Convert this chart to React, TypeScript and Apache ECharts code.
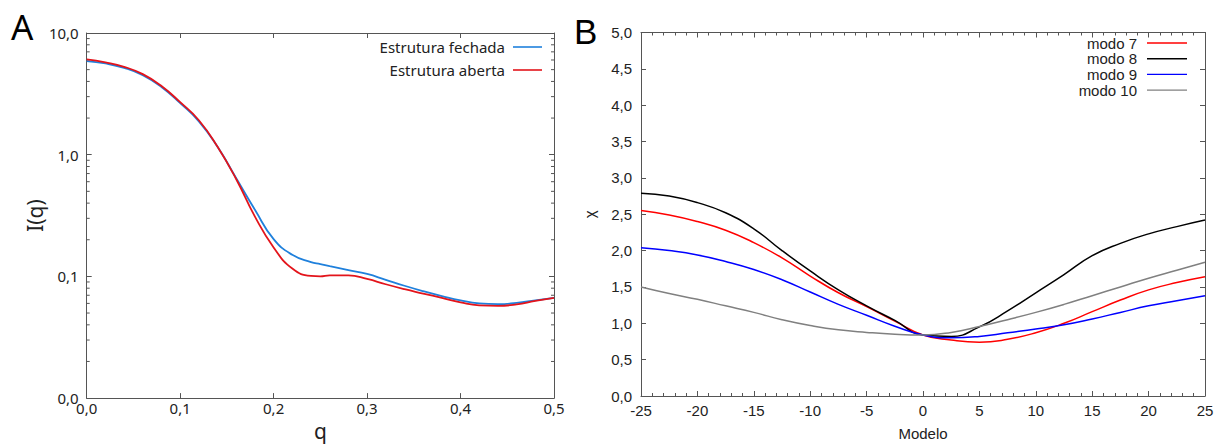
import React, { useEffect, useRef } from 'react';
import * as echarts from 'echarts';

// Panel A data
const qValues = [0, 0.02, 0.04, 0.06, 0.08, 0.1, 0.12, 0.14, 0.16, 0.18, 0.2, 0.22, 0.24, 0.25, 0.26, 0.28, 0.3, 0.32, 0.34, 0.36, 0.38, 0.4, 0.42, 0.44, 0.46, 0.48, 0.5];
const closedI = [5.87, 5.62, 5.17, 4.5, 3.6, 2.65, 1.88, 1.16, 0.64, 0.353, 0.2026, 0.1504, 0.1309, 0.1262, 0.1215, 0.1128, 0.1047, 0.0937, 0.0838, 0.0757, 0.069, 0.0635, 0.06, 0.0591, 0.0606, 0.0635, 0.0665];
const openI = [6.06, 5.73, 5.27, 4.59, 3.67, 2.7, 1.92, 1.16, 0.629, 0.31, 0.173, 0.116, 0.1009, 0.1, 0.1019, 0.1019, 0.0954, 0.0862, 0.0786, 0.0723, 0.0665, 0.0611, 0.0578, 0.0573, 0.0589, 0.0629, 0.0665];
const aMinorTicks = [0.02, 0.03, 0.04, 0.05, 0.06, 0.07, 0.08, 0.09, 0.2, 0.3, 0.4, 0.5, 0.6, 0.7, 0.8, 0.9, 2, 3, 4, 5, 6, 7, 8, 9];
const aNames = ['Estrutura fechada', 'Estrutura aberta'];

// Panel B data
const modelo = [-25, -22.5, -20, -17.5, -15, -12.5, -10, -7.5, -5, -2.5, 0, 2.5, 5, 7.5, 10, 12.5, 15, 17.5, 20, 22.5, 25];
const modo7 = [2.55, 2.49, 2.4, 2.28, 2.11, 1.9, 1.65, 1.42, 1.23, 1.03, 0.84, 0.77, 0.74, 0.78, 0.87, 1.0, 1.16, 1.32, 1.46, 1.56, 1.64];
const modo8 = [2.79, 2.75, 2.66, 2.52, 2.3, 2.0, 1.72, 1.46, 1.24, 1.04, 0.84, 0.82, 0.95, 1.17, 1.42, 1.67, 1.93, 2.1, 2.23, 2.33, 2.42];
const modo9 = [2.04, 2.0, 1.94, 1.85, 1.74, 1.6, 1.43, 1.26, 1.11, 0.96, 0.84, 0.8, 0.82, 0.87, 0.92, 0.98, 1.06, 1.15, 1.24, 1.31, 1.38];
const modo10 = [1.5, 1.41, 1.33, 1.24, 1.15, 1.05, 0.97, 0.91, 0.875, 0.85, 0.84, 0.875, 0.955, 1.05, 1.15, 1.26, 1.38, 1.5, 1.62, 1.73, 1.84];
const bNames = ['modo 7', 'modo 8', 'modo 9', 'modo 10'];

const fontA = 'Noto Sans';
const fontB = 'Liberation Sans';
const axisColor = '#555';
const textColor = '#222';

const comma1 = (v: number) => Number(v).toFixed(1).replace('.', ',');

export default function App() {
  const ref = useRef<HTMLDivElement>(null);
  useEffect(() => {
    if (!ref.current) return;
    const chart = echarts.init(ref.current, undefined, { renderer: 'svg' });
    const pair = (xs: number[], ys: number[]) => xs.map((x, i) => [x, ys[i]]);
    const lineStyleAxis = { color: axisColor, width: 1 };

    const option: any = {
      animation: false,
      backgroundColor: '#fff',
      grid: [
        { left: 86.7, top: 33, width: 467.3, height: 372, show: false },
        { left: 641, top: 32.5, width: 564, height: 369.5, show: false },
      ],
      legend: [
        {
          data: aNames,
          orient: 'vertical',
          right: 682,
          top: 39,
          padding: 0,
          align: 'right',
          icon: 'rect',
          itemWidth: 29,
          itemHeight: 1.6,
          itemGap: 7,
          textStyle: { fontFamily: fontA, fontSize: 15, color: textColor, lineHeight: 16, padding: [0, 3, 0, 0] },
        },
        {
          data: bNames,
          orient: 'vertical',
          right: 37,
          top: 35.5,
          padding: 0,
          align: 'right',
          icon: 'rect',
          itemWidth: 40,
          itemHeight: 1.4,
          itemGap: 0.7,
          textStyle: { fontFamily: fontB, fontSize: 15, color: textColor, lineHeight: 15, padding: [0, 5, 0, 0] },
        },
      ],
      xAxis: [
        {
          gridIndex: 0, type: 'value', min: 0, max: 0.5, interval: 0.1, position: 'bottom',
          name: 'q', nameLocation: 'middle', nameGap: 17,
          nameTextStyle: { fontFamily: fontA, fontSize: 21, color: textColor },
          axisLine: { show: true, onZero: false, lineStyle: lineStyleAxis },
          axisTick: { show: true, inside: true, length: 5, lineStyle: lineStyleAxis },
          axisLabel: { fontFamily: fontA, fontSize: 15, color: textColor, margin: 2, formatter: comma1 },
          splitLine: { show: false },
        },
        {
          gridIndex: 0, type: 'value', min: 0, max: 0.5, interval: 0.1, position: 'top',
          axisLine: { show: true, onZero: false, lineStyle: lineStyleAxis },
          axisTick: { show: true, inside: true, length: 5, lineStyle: lineStyleAxis },
          axisLabel: { show: false },
          splitLine: { show: false },
        },
        {
          gridIndex: 1, type: 'value', min: -25, max: 25, interval: 5, position: 'bottom',
          name: 'Modelo', nameLocation: 'middle', nameGap: 30,
          nameTextStyle: { fontFamily: fontB, fontSize: 15, color: textColor },
          axisLine: { show: true, onZero: false, lineStyle: lineStyleAxis },
          axisTick: { show: true, inside: true, length: 5, lineStyle: lineStyleAxis },
          minorTick: { show: true, splitNumber: 5, length: 3, lineStyle: lineStyleAxis },
          axisLabel: { fontFamily: fontB, fontSize: 15, color: textColor, margin: 7 },
          splitLine: { show: false },
        },
        {
          gridIndex: 1, type: 'value', min: -25, max: 25, interval: 5, position: 'top',
          axisLine: { show: true, onZero: false, lineStyle: lineStyleAxis },
          axisTick: { show: true, inside: true, length: 5, lineStyle: lineStyleAxis },
          minorTick: { show: true, splitNumber: 5, length: 3, lineStyle: lineStyleAxis },
          axisLabel: { show: false },
          splitLine: { show: false },
        },
      ],
      yAxis: [
        {
          gridIndex: 0, type: 'log', logBase: 10, min: 0.01, max: 10, position: 'left',
          name: 'I(q)', nameLocation: 'middle', nameGap: 40, nameRotate: 90,
          nameTextStyle: { fontFamily: fontA, fontSize: 21, color: textColor },
          axisLine: { show: true, onZero: false, lineStyle: lineStyleAxis },
          axisTick: { show: true, inside: true, length: 5, lineStyle: lineStyleAxis },
          axisLabel: { fontFamily: fontA, fontSize: 15, color: textColor, margin: 8, formatter: comma1 },
          splitLine: { show: false },
        },
        {
          gridIndex: 0, type: 'log', logBase: 10, min: 0.01, max: 10, position: 'right',
          axisLine: { show: true, onZero: false, lineStyle: lineStyleAxis },
          axisTick: { show: true, inside: true, length: 5, lineStyle: lineStyleAxis },
          axisLabel: { show: false },
          splitLine: { show: false },
        },
        {
          gridIndex: 1, type: 'value', min: 0, max: 5, interval: 0.5, position: 'left',
          name: 'χ', nameLocation: 'middle', nameGap: 44, nameRotate: 90,
          nameTextStyle: { fontFamily: fontB, fontSize: 15, color: textColor },
          axisLine: { show: true, onZero: false, lineStyle: lineStyleAxis },
          axisTick: { show: true, inside: true, length: 5, lineStyle: lineStyleAxis },
          axisLabel: { fontFamily: fontB, fontSize: 15, color: textColor, margin: 9, formatter: comma1 },
          splitLine: { show: false },
        },
        {
          gridIndex: 1, type: 'value', min: 0, max: 5, interval: 0.5, position: 'right',
          axisLine: { show: true, onZero: false, lineStyle: lineStyleAxis },
          axisTick: { show: true, inside: true, length: 5, lineStyle: lineStyleAxis },
          axisLabel: { show: false },
          splitLine: { show: false },
        },
      ],
      graphic: [
        { type: 'text', left: 11, top: 9, style: { text: 'A', fontFamily: fontA, fontSize: 35, fill: '#000' } },
        { type: 'text', left: 574, top: 14, style: { text: 'B', fontFamily: fontB, fontSize: 35, fill: '#000' } },
      ],
      series: [
        {
          type: 'custom', xAxisIndex: 0, yAxisIndex: 0, silent: true, clip: false,
          data: aMinorTicks.map((v) => [0, v]),
          encode: { x: 0, y: 1 },
          renderItem: (params: any, api: any) => {
            const v = api.value(1);
            const l = api.coord([0, v]);
            const r = api.coord([0.5, v]);
            return {
              type: 'group',
              children: [
                { type: 'line', shape: { x1: l[0], y1: l[1], x2: l[0] + 3, y2: l[1] }, style: { stroke: axisColor, lineWidth: 1 } },
                { type: 'line', shape: { x1: r[0], y1: r[1], x2: r[0] - 3, y2: r[1] }, style: { stroke: axisColor, lineWidth: 1 } },
              ],
            };
          },
        },
        {
          name: aNames[0], type: 'line', xAxisIndex: 0, yAxisIndex: 0, data: pair(qValues, closedI),
          smooth: 0.5, showSymbol: false, symbol: 'none', color: '#1f80dc', lineStyle: { width: 1.8, color: '#1f80dc' },
        },
        {
          name: aNames[1], type: 'line', xAxisIndex: 0, yAxisIndex: 0, data: pair(qValues, openI),
          smooth: 0.5, showSymbol: false, symbol: 'none', color: '#e3141b', lineStyle: { width: 1.8, color: '#e3141b' },
        },
        {
          name: bNames[0], type: 'line', xAxisIndex: 2, yAxisIndex: 2, data: pair(modelo, modo7),
          smooth: 0.5, showSymbol: false, symbol: 'none', color: '#ff0000', lineStyle: { width: 1.5, color: '#ff0000' },
        },
        {
          name: bNames[1], type: 'line', xAxisIndex: 2, yAxisIndex: 2, data: pair(modelo, modo8),
          smooth: 0.5, showSymbol: false, symbol: 'none', color: '#000000', lineStyle: { width: 1.5, color: '#000000' },
        },
        {
          name: bNames[2], type: 'line', xAxisIndex: 2, yAxisIndex: 2, data: pair(modelo, modo9),
          smooth: 0.5, showSymbol: false, symbol: 'none', color: '#0000ff', lineStyle: { width: 1.5, color: '#0000ff' },
        },
        {
          name: bNames[3], type: 'line', xAxisIndex: 2, yAxisIndex: 2, data: pair(modelo, modo10),
          smooth: 0.5, showSymbol: false, symbol: 'none', color: '#808080', lineStyle: { width: 1.5, color: '#808080' },
        },
      ],
    };
    chart.setOption(option);
    return () => chart.dispose();
  }, []);

  return (
    <div style={{ position: 'fixed', left: 0, top: 0, width: 1224, height: 446, background: '#fff' }}>
      <div ref={ref} style={{ width: 1224, height: 446 }} />
    </div>
  );
}
